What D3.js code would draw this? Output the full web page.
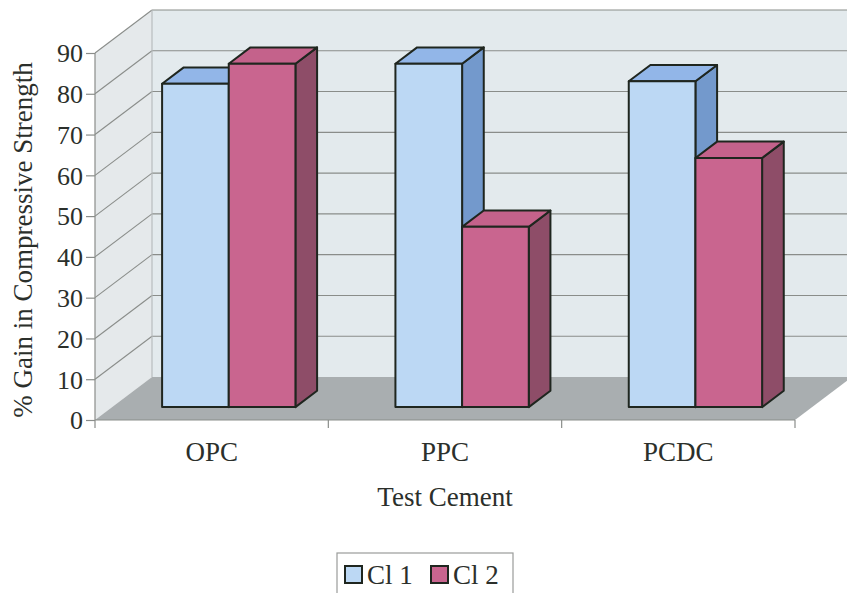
<!DOCTYPE html>
<html>
<head>
<meta charset="utf-8">
<script src="https://cdn.jsdelivr.net/npm/d3@7"></script>
<style>
  html, body { margin: 0; padding: 0; background: #ffffff; }
  svg { display: block; font-family: "Liberation Serif", "Times New Roman", "DejaVu Serif", serif; }
  svg text { font-family: "Liberation Serif", "Times New Roman", "DejaVu Serif", serif; fill: #2b2f2b; }
</style>
</head>
<body>
<svg id="chart" width="847" height="593"></svg>
<script>
// Percentage gain in compressive strength per test cement
const categories = ["OPC", "PPC", "PCDC"];
const seriesNames = ["Cl 1", "Cl 2"];
const cl1Values = [79.3, 84.2, 79.9];
const cl2Values = [84.2, 44.2, 61.1];
const yTicks = [0, 10, 20, 30, 40, 50, 60, 70, 80, 90];

const seriesValues = [cl1Values, cl2Values];
const serif = '"Liberation Serif", "Times New Roman", "DejaVu Serif", serif';

// Face colours per series: front, top, side
const palette = [
  { front: "#bcd8f4", top: "#92b6e8", side: "#7399cc" },
  { front: "#c9658f", top: "#c4628b", side: "#8e4d68" }
];

const svg = d3.select("#chart");

// Front plane geometry
const plot = { left: 95, right: 795, top: 53, bottom: 420 };
// Full depth of the 3-D box (offset of the back plane)
const depth = { dx: 57, dy: -43 };
// Bars sit between these fractions of the depth
const barFrontT = 0.30, barBackT = 0.68;

const x = d3.scaleBand().domain(categories).range([plot.left, plot.right]).padding(0);
const y = d3.scaleLinear().domain([0, 90]).range([plot.bottom, plot.top]);

const off = t => [depth.dx * t, depth.dy * t];
const pts = arr => arr.map(p => p.join(",")).join(" ");

// ---- Walls and floor ----
const walls = svg.append("g");
const backX0 = plot.left + depth.dx, backX1 = plot.right + depth.dx + 10;
const backTop = y(90) + depth.dy, backBottom = y(0) + depth.dy;

// back wall
walls.append("polygon")
  .attr("points", pts([[backX0, backTop], [backX1, backTop], [backX1, backBottom], [backX0, backBottom]]))
  .attr("fill", "#e3eaed");
// side wall
walls.append("polygon")
  .attr("points", pts([[plot.left, y(90)], [backX0, backTop], [backX0, backBottom], [plot.left, y(0)]]))
  .attr("fill", "#e5e9eb");
// floor
walls.append("polygon")
  .attr("points", pts([[plot.left, y(0)], [plot.right, y(0)], [plot.right + depth.dx, backBottom], [backX0, backBottom]]))
  .attr("fill", "#a9aeb0");

// gridlines: diagonal on the side wall, horizontal on the back wall
const grid = svg.append("g").attr("stroke", "#8a8d8a").attr("stroke-width", 1.1).attr("fill", "none");
grid.selectAll("line.side").data(yTicks.filter(v => v > 0)).join("line")
  .attr("class", "side")
  .attr("x1", plot.left).attr("y1", d => y(d))
  .attr("x2", backX0).attr("y2", d => y(d) + depth.dy);
grid.selectAll("line.back").data(yTicks.filter(v => v > 0)).join("line")
  .attr("class", "back")
  .attr("x1", backX0).attr("y1", d => y(d) + depth.dy)
  .attr("x2", backX1).attr("y2", d => y(d) + depth.dy);
// wall edges
grid.append("line").attr("x1", backX0).attr("y1", backTop).attr("x2", backX0).attr("y2", backBottom)
  .attr("stroke", "#b5b9ba");

// ---- Bars ----
const nSeries = seriesNames.length;
const gapRatio = 1.5;
const barW = x.bandwidth() / (nSeries + gapRatio);
const [fdx, fdy] = off(barFrontT);
const [bdx, bdy] = off(barBackT);
const ddx = bdx - fdx, ddy = bdy - fdy;
const y0 = y(0) + fdy;

const bars = svg.append("g").attr("stroke", "#1f261f").attr("stroke-width", 2).attr("stroke-linejoin", "round");
categories.forEach((cat, ci) => {
  seriesValues.forEach((vals, si) => {
    const v = vals[ci];
    const xl = x(cat) + fdx + barW * gapRatio / 2 + si * barW;
    const xr = xl + barW;
    const yt = y(v) + fdy;
    const c = palette[si];
    const g = bars.append("g");
    // side face
    g.append("polygon")
      .attr("points", pts([[xr, yt], [xr + ddx, yt + ddy], [xr + ddx, y0 + ddy], [xr, y0]]))
      .attr("fill", c.side);
    // top face
    g.append("polygon")
      .attr("points", pts([[xl, yt], [xl + ddx, yt + ddy], [xr + ddx, yt + ddy], [xr, yt]]))
      .attr("fill", c.top);
    // front face
    g.append("rect")
      .attr("x", xl).attr("y", yt).attr("width", barW).attr("height", y0 - yt)
      .attr("fill", c.front);
  });
});

// ---- Axes ----
const yAxis = d3.axisLeft(y).tickValues(yTicks).tickSize(9).tickSizeOuter(0).tickPadding(3);
const yg = svg.append("g").attr("transform", `translate(${plot.left},0)`).call(yAxis)
  .attr("font-family", serif).attr("font-size", 26);
yg.select(".domain").attr("stroke", "#8a8d8a").attr("stroke-width", 1.2)
  .attr("d", `M0,${plot.top}V${plot.bottom + 8}`);
yg.selectAll(".tick line").attr("stroke", "#8a8d8a").attr("stroke-width", 1.2);
yg.selectAll(".tick text").attr("fill", "#2b2f2b").attr("dy", "0.34em");

// category axis: baseline, boundary ticks, centred labels
const xg = svg.append("g");
xg.append("line").attr("x1", plot.left).attr("x2", plot.right).attr("y1", plot.bottom).attr("y2", plot.bottom)
  .attr("stroke", "#8a8d8a").attr("stroke-width", 1.2);
const bounds = categories.map(c => x(c) + x.bandwidth());
xg.selectAll("line.tick").data(bounds).join("line")
  .attr("class", "tick")
  .attr("x1", d => d).attr("x2", d => d).attr("y1", plot.bottom).attr("y2", plot.bottom + 8)
  .attr("stroke", "#8a8d8a").attr("stroke-width", 1.2);
const xAxis = d3.axisBottom(x).tickSize(0).tickPadding(0);
const xl = svg.append("g").attr("transform", `translate(0,${plot.bottom})`).call(xAxis)
  .attr("font-family", serif).attr("font-size", 27);
xl.select(".domain").remove();
xl.selectAll(".tick text").attr("fill", "#2b2f2b").attr("dy", null).attr("y", 41);

// axis titles
svg.append("text").attr("x", 445).attr("y", 506).attr("text-anchor", "middle")
  .attr("font-size", 27).text("Test Cement");
svg.append("text").attr("transform", "translate(32,240) rotate(-90)").attr("text-anchor", "middle")
  .attr("font-size", 27).text("% Gain in Compressive Strength");

// ---- Legend ----
const legend = svg.append("g").attr("transform", "translate(337,553)");
legend.append("rect").attr("x", 0).attr("y", 0).attr("width", 176).attr("height", 60)
  .attr("fill", "#ffffff").attr("stroke", "#9a9c9a").attr("stroke-width", 1.2);
const itemX = [8, 94];
seriesNames.forEach((name, i) => {
  legend.append("rect").attr("x", itemX[i]).attr("y", 13).attr("width", 17).attr("height", 17)
    .attr("fill", palette[i].front).attr("stroke", "#1f261f").attr("stroke-width", 2);
  legend.append("text").attr("x", itemX[i] + 22).attr("y", 31).attr("font-size", 27).text(name);
});
</script>
</body>
</html>
